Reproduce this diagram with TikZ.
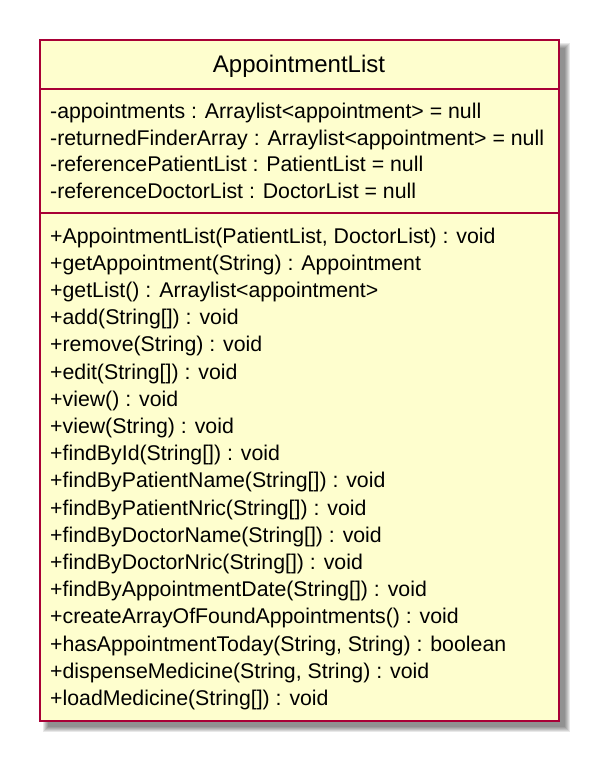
\documentclass[tikz,border=0pt]{standalone}
\usepackage{fontspec}
\setmainfont{Liberation Sans}
\usepackage{tikz}
\usepackage{xcolor}
\definecolor{classfill}{HTML}{FEFECE}
\definecolor{classline}{HTML}{A80036}

\begin{document}
\begin{tikzpicture}[x=1pt,y=-1pt,
  member/.style={anchor=base west,inner sep=0pt,font=\fontsize{21.3}{26}\selectfont},
  classname/.style={anchor=base,inner sep=0pt,font=\fontsize{24}{28}\selectfont},
  shadowlayer/.style={fill=black,opacity=0.09}]
\useasboundingbox (0,0) rectangle (595,777);
% shadow
\fill[shadowlayer] (43,43) rectangle (570,732);
\fill[shadowlayer] (44,44) rectangle (569,731);
\fill[shadowlayer] (45,45) rectangle (568,730);
\fill[shadowlayer] (46,46) rectangle (567,729);
\fill[shadowlayer] (47,47) rectangle (566,728);
\fill[shadowlayer] (48,48) rectangle (565,727);
% class box
\draw[classline,fill=classfill,line width=1.6pt] (40,40) rectangle (559,721);
\draw[classline,line width=1.6pt] (40,89)--(559,89);
\draw[classline,line width=1.6pt] (40,213)--(559,213);
\node[classname] (title) at (299,72) {AppointmentList};
% attributes
\node[member] (a1) at (50,118.5) {-appointments : Arraylist<appointment> = null};
\node[member] (a2) at (50,145) {-returnedFinderArray : Arraylist<appointment> = null};
\node[member] (a3) at (50,171.5) {-referencePatientList : PatientList = null};
\node[member] (a4) at (50,198) {-referenceDoctorList : DoctorList = null};
% methods
\node[member] (m1) at (50,243) {+AppointmentList(PatientList, DoctorList) : void};
\node[member] (m2) at (50,270.2) {+getAppointment(String) : Appointment};
\node[member] (m3) at (50,297.4) {+getList() : Arraylist<appointment>};
\node[member] (m4) at (50,324.6) {+add(String[]) : void};
\node[member] (m5) at (50,351.8) {+remove(String) : void};
\node[member] (m6) at (50,379) {+edit(String[]) : void};
\node[member] (m7) at (50,406.2) {+view() : void};
\node[member] (m8) at (50,433.4) {+view(String) : void};
\node[member] (m9) at (50,460.6) {+findById(String[]) : void};
\node[member] (m10) at (50,487.8) {+findByPatientName(String[]) : void};
\node[member] (m11) at (50,515) {+findByPatientNric(String[]) : void};
\node[member] (m12) at (50,542.2) {+findByDoctorName(String[]) : void};
\node[member] (m13) at (50,569.4) {+findByDoctorNric(String[]) : void};
\node[member] (m14) at (50,596.6) {+findByAppointmentDate(String[]) : void};
\node[member] (m15) at (50,623.8) {+createArrayOfFoundAppointments() : void};
\node[member] (m16) at (50,651) {+hasAppointmentToday(String, String) : boolean};
\node[member] (m17) at (50,678.2) {+dispenseMedicine(String, String) : void};
\node[member] (m18) at (50,705.4) {+loadMedicine(String[]) : void};
\end{tikzpicture}
\end{document}
